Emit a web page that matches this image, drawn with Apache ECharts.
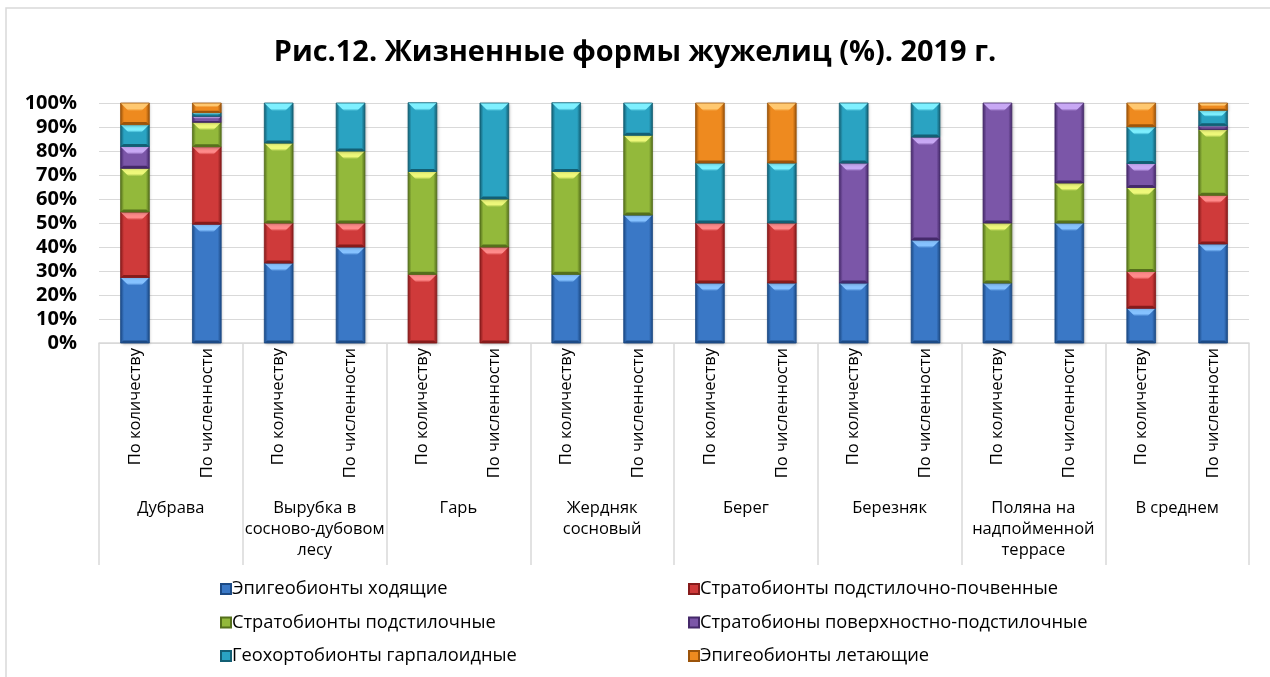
<!DOCTYPE html>
<html><head><meta charset="utf-8">
<script src="https://cdn.jsdelivr.net/npm/echarts@6/dist/echarts.min.js"></script>
<style>html,body{margin:0;padding:0;background:#fff}#c{width:1270px;height:677px}</style>
</head><body><div id="c"></div>
<script>
var titleText = 'Рис.12. Жизненные формы жужелиц (%). 2019 г.';
var groups = ['Дубрава', 'Вырубка в\nсосново-дубовом\nлесу', 'Гарь', 'Жердняк\nсосновый', 'Берег', 'Березняк', 'Поляна на\nнадпойменной\nтеррасе', 'В среднем'];
var subLabels = ['По количеству', 'По численности'];
var seriesNames = ['Эпигеобионты ходящие', 'Стратобионты подстилочно-почвенные', 'Стратобионты подстилочные', 'Стратобионы поверхностно-подстилочные', 'Геохортобионты гарпалоидные', 'Эпигеобионты летающие'];
var epigeoWalking = [27.3, 49.5, 33.3, 40, 0, 0, 28.6, 53.3, 25, 25, 25, 42.9, 25, 50, 14.5, 41.3];
var stratoLitterSoil = [27.3, 32.3, 16.7, 10, 28.6, 40, 0, 0, 25, 25, 0, 0, 0, 0, 15.3, 20.3];
var stratoLitter = [18.2, 10.2, 33.3, 30, 42.9, 20, 42.9, 33.3, 0, 0, 0, 0, 25, 16.7, 35, 27.4];
var stratoSurface = [9.1, 2.5, 0, 0, 0, 0, 0, 0, 0, 0, 50, 42.9, 50, 33.3, 10, 1.5];
var geochorto = [9.1, 1.5, 16.7, 20, 28.6, 40, 28.6, 13.4, 25, 25, 25, 14.2, 0, 0, 15.3, 6.5];
var epigeoFlying = [9.0, 4.0, 0, 0, 0, 0, 0, 0, 25, 25, 0, 0, 0, 0, 9.9, 3.0];
var yTicks = [0, 10, 20, 30, 40, 50, 60, 70, 80, 90, 100];

var seriesValues = [epigeoWalking, stratoLitterSoil, stratoLitter, stratoSurface, geochorto, epigeoFlying];
// [dark, main, light]
var palette = [
  ['#1c4a85', '#3a78c6', '#86c2ff'],
  ['#861b1b', '#cf3a3a', '#ff8a8a'],
  ['#55701c', '#93b93b', '#eef87a'],
  ['#45296a', '#7b56a8', '#c8a8f4'],
  ['#135f74', '#2aa3c2', '#7ef0ff'],
  ['#9c540a', '#ee8a1f', '#ffc870']
];
var xData = [];
groups.forEach(function () { subLabels.forEach(function (s) { xData.push(s); }); });
var FONT = 'Open Sans';

function makeRender(p) {
  return function (params, api) {
    var v = api.value(1);
    if (!v) return null;
    var idx = api.value(0), base = api.value(2);
    var pb = api.coord([idx, base]);
    var pt = api.coord([idx, base + v]);
    var w = api.size([1, 0])[0] * 0.4;
    var x0 = pb[0] - w / 2, x1 = pb[0] + w / 2, yb = pb[1], yt = pt[1], h = yb - yt;
    var b = Math.min(8, h * 0.42);
    var s = Math.min(3, b);
    var bb = Math.min(2.5, h * 0.2);
    return {
      type: 'group',
      children: [
        {type: 'rect', shape: {x: x0, y: yt, width: w, height: h},
          style: {fill: new echarts.graphic.LinearGradient(0, 0, 1, 0, [
            {offset: 0, color: p[0]}, {offset: 0.12, color: p[1]}, {offset: 0.88, color: p[1]}, {offset: 1, color: p[0]}]),
            shadowColor: 'rgba(0,0,0,0.3)', shadowBlur: 3, shadowOffsetX: 1, shadowOffsetY: 1}},
        {type: 'polygon', shape: {points: [[x0, yt], [x1, yt], [x1 - b, yt + b], [x0 + b, yt + b]]},
          style: {fill: new echarts.graphic.LinearGradient(0, 0, 0, 1, [
            {offset: 0, color: p[2]}, {offset: 0.7, color: p[2]}, {offset: 1, color: p[1]}])}},
        {type: 'polygon', shape: {points: [[x0, yb], [x1, yb], [x1 - s, yb - bb], [x0 + s, yb - bb]]},
          style: {fill: p[0]}},
        {type: 'rect', shape: {x: x0, y: yt, width: w, height: h},
          style: {fill: 'none', stroke: p[0], lineWidth: 0.8}}
      ]
    };
  };
}

var series = seriesNames.map(function (n, i) {
  var data = seriesValues[i].map(function (v, k) {
    var base = 0;
    for (var j = 0; j < i; j++) base += seriesValues[j][k];
    return [k, v, base];
  });
  return {
    name: n, type: 'custom', xAxisIndex: 0, renderItem: makeRender(palette[i]),
    encode: {x: 0, y: [1, 2]},
    itemStyle: {color: palette[i][1], borderColor: palette[i][0], borderWidth: 0.8},
    data: data
  };
});

var legendText = {fontFamily: FONT, fontSize: 18.3, color: '#000', lineHeight: 18, padding: [0, 0, 0, -4]};
var chart = echarts.init(document.getElementById('c'));
chart.setOption({
  animation: false,
  backgroundColor: '#fff',
  graphic: [{type: 'rect', shape: {x: 6, y: 8, width: 1300, height: 700}, style: {fill: 'none', stroke: '#d9d9d9', lineWidth: 1.5}, silent: true}],
  title: {text: titleText, left: 'center', top: 33, textStyle: {fontFamily: FONT, fontWeight: 'bold', fontSize: 28.9, color: '#000'}},
  grid: {left: 99, right: 21, top: 103, bottom: 334, containLabel: false},
  legend: [
    {orient: 'vertical', left: 215, top: 575, itemWidth: 10, itemHeight: 10, itemGap: 15.5, icon: 'rect',
      data: [seriesNames[0], seriesNames[2], seriesNames[4]], textStyle: legendText},
    {orient: 'vertical', left: 683, top: 575, itemWidth: 10, itemHeight: 10, itemGap: 15.5, icon: 'rect',
      data: [seriesNames[1], seriesNames[3], seriesNames[5]], textStyle: legendText}
  ],
  xAxis: [
    {type: 'category', data: xData, position: 'bottom',
      axisLine: {show: true, lineStyle: {color: '#d9d9d9', width: 1.5}},
      axisTick: {show: false},
      axisLabel: {rotate: 90, interval: 0, margin: 5, fontFamily: FONT, fontSize: 16.5, color: '#000'}},
    {type: 'category', data: groups, position: 'bottom',
      axisLine: {show: false},
      axisTick: {show: true, length: 222, interval: 0, lineStyle: {color: '#d9d9d9', width: 1.5}},
      axisLabel: {interval: 0, margin: 155, fontFamily: FONT, fontSize: 16.5, lineHeight: 21, color: '#000', verticalAlign: 'top'}}
  ],
  yAxis: {type: 'value', min: yTicks[0], max: yTicks[yTicks.length - 1], interval: yTicks[1] - yTicks[0],
    axisLine: {show: false}, axisTick: {show: false},
    splitLine: {lineStyle: {color: '#d9d9d9', width: 1.2}},
    axisLabel: {margin: 22, formatter: '{value}%', fontFamily: FONT, fontWeight: 'bold', fontSize: 20, color: '#000'}},
  series: series
});
</script></body></html>
